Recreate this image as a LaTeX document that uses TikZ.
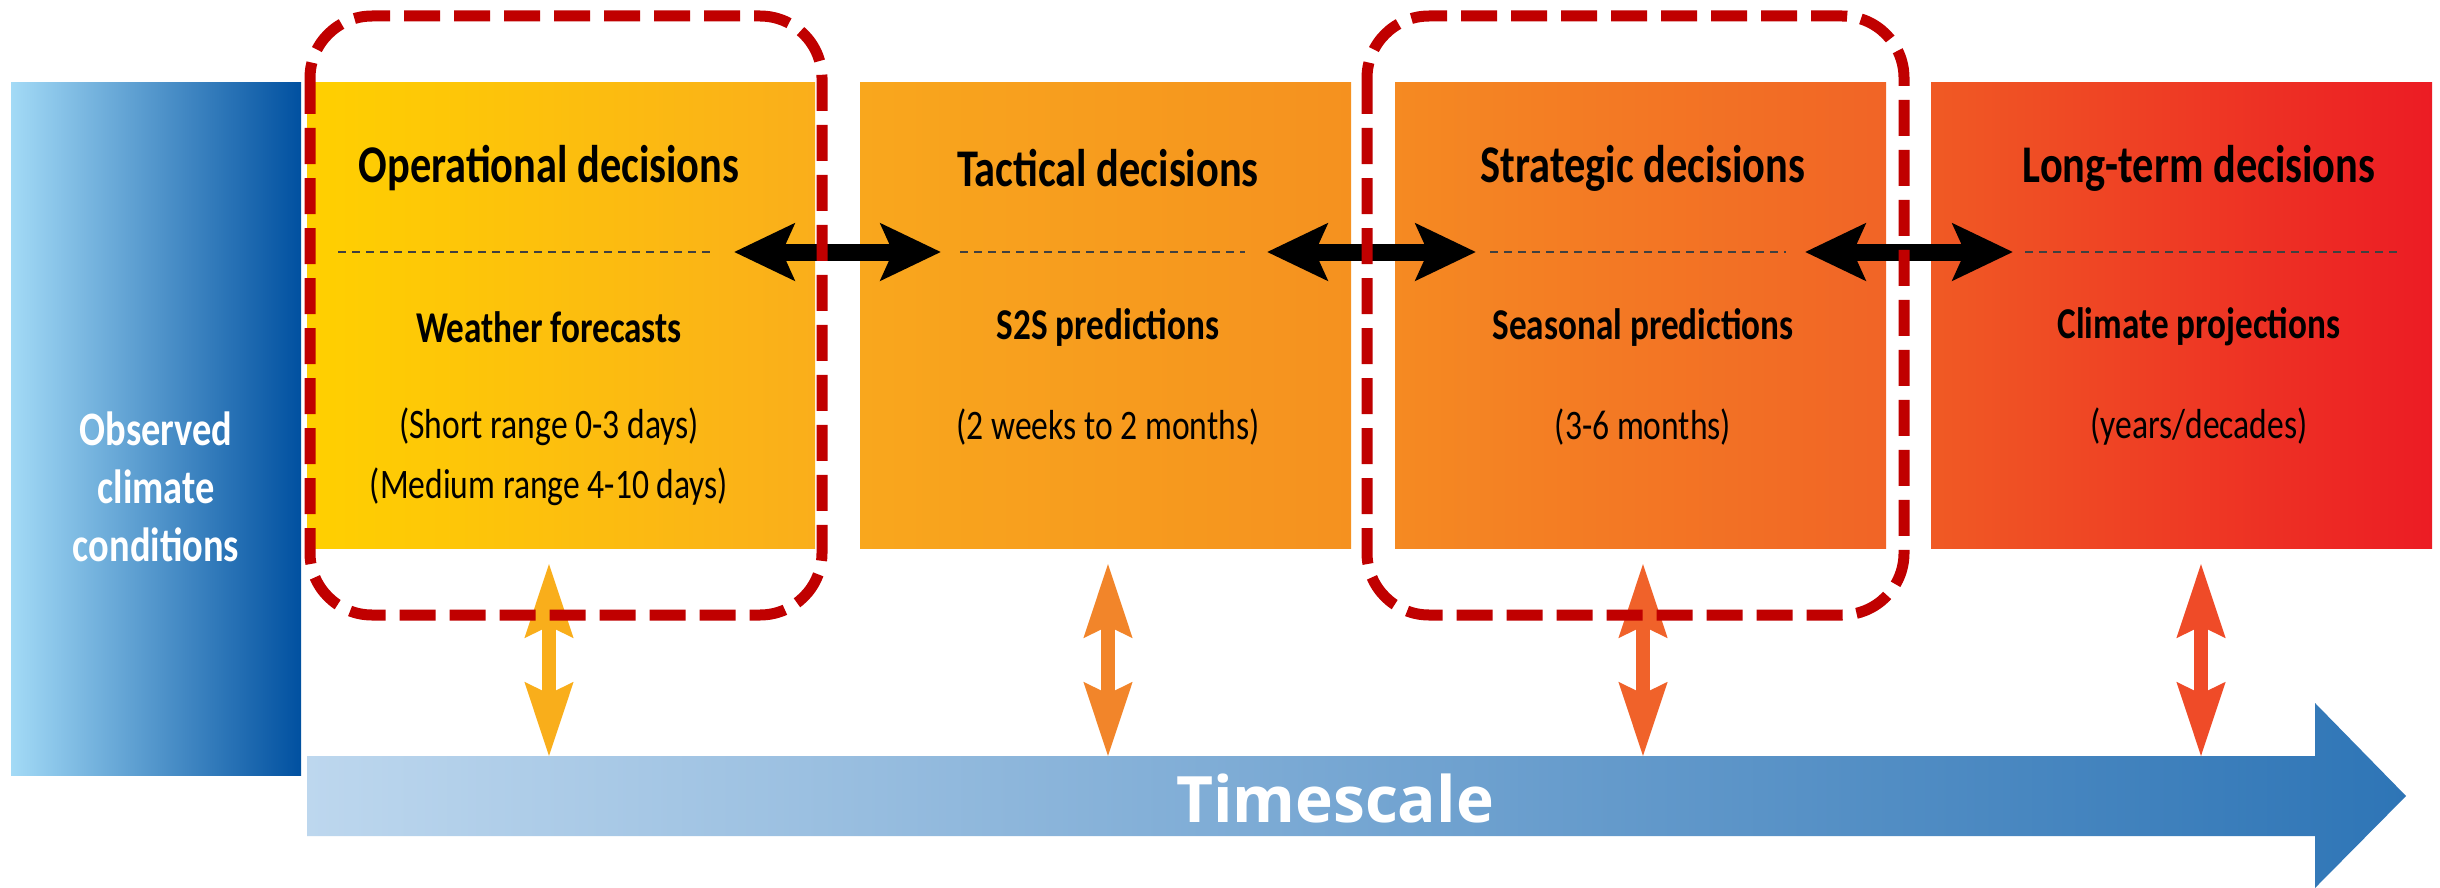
\documentclass[tikz,border=0pt]{standalone}
\usepackage{fontspec}
\setmainfont{Carlito}
\newfontfamily\condf[FakeStretch=0.8]{Carlito}
\newfontfamily\tsfont{Open Sans}
\usetikzlibrary{arrows.meta}
\definecolor{obsL}{HTML}{A3DAF6}
\definecolor{obsR}{HTML}{0050A0}
\definecolor{b1L}{HTML}{FFD000}
\definecolor{b1R}{HTML}{FAAE1B}
\definecolor{b2L}{HTML}{F9A71D}
\definecolor{b2R}{HTML}{F5911F}
\definecolor{b3L}{HTML}{F58A22}
\definecolor{b3R}{HTML}{F16426}
\definecolor{b4L}{HTML}{F05A24}
\definecolor{b4R}{HTML}{EC1C24}
\definecolor{tsL}{HTML}{BDD7EE}
\definecolor{tsR}{HTML}{2E75B6}
\definecolor{va1}{HTML}{F9AE1B}
\definecolor{va2}{HTML}{F2852A}
\definecolor{va3}{HTML}{F0622A}
\definecolor{va4}{HTML}{EF4B28}
\definecolor{dred}{HTML}{C00000}
\tikzset{
  panel/.style={rectangle, inner sep=0pt, anchor=north west},
  ttl/.style={font=\condf\bfseries\fontsize{53}{58}\selectfont, inner sep=0pt},
  sub/.style={font=\condf\bfseries\fontsize{44}{50}\selectfont, inner sep=0pt},
  rng/.style={font=\condf\fontsize{42}{48}\selectfont, inner sep=0pt},
  gline/.style={draw=black!75, line width=2pt, dash pattern=on 8pt off 6pt},
  blk/.style={line width=17pt, {Stealth[length=60pt,width=56pt,inset=12pt]}-{Stealth[length=60pt,width=56pt,inset=12pt]}},
  varr/.style={line width=14pt, {Stealth[length=73pt,width=46pt,inset=10pt]}-{Stealth[length=73pt,width=46pt,inset=10pt]}},
  redbox/.style={draw=dred, line width=11pt, dash pattern=on 36pt off 14pt, rounded corners=62pt}
}
\begin{document}
\begin{tikzpicture}[x=1pt,y=-1pt]
\useasboundingbox (0,0) rectangle (2440,888);
\fill[white] (0,0) rectangle (2440,888);

% observed box
\node[panel, left color=obsL, right color=obsR, minimum width=290pt, minimum height=693pt] (obs) at (11,82) {};
\node[font=\condf\bfseries\fontsize{48}{58}\selectfont, text=white, align=center, inner sep=0pt] (obst) at (156,487) {Observed\\climate\\conditions};

% panels
\node[panel, left color=b1L, right color=b1R, minimum width=508pt, minimum height=466pt] (b1) at (307,82) {};
\node[panel, left color=b2L, right color=b2R, minimum width=491pt, minimum height=466pt] (b2) at (860,82) {};
\node[panel, left color=b3L, right color=b3R, minimum width=491pt, minimum height=466pt] (b3) at (1395,82) {};
\node[panel, left color=b4L, right color=b4R, minimum width=501pt, minimum height=466pt] (b4) at (1931,82) {};

% texts
\node[ttl] (t1) at (549,168) {Operational decisions};
\node[ttl] (t2) at (1108,168) {Tactical decisions};
\node[ttl] (t3) at (1643,168) {Strategic decisions};
\node[ttl] (t4) at (2199,168) {Long-term decisions};

\node[sub] (s1) at (549,327) {Weather forecasts};
\node[sub] (s2) at (1108,327) {S2S predictions};
\node[sub] (s3) at (1643,327) {Seasonal predictions};
\node[sub] (s4) at (2199,327) {Climate projections};

\node[rng] (r1) at (549,427) {(Short range 0-3 days)};
\node[rng] (r1b) at (549,487) {(Medium range 4-10 days)};
\node[rng] (r2) at (1108,427) {(2 weeks to 2 months)};
\node[rng] (r3) at (1643,427) {(3-6 months)};
\node[rng] (r4) at (2199,427) {(years/decades)};

% thin dashed lines
\coordinate (g1a) at (338,252); \coordinate (g1b) at (711,252);
\coordinate (g2a) at (960,252); \coordinate (g2b) at (1245,252);
\coordinate (g3a) at (1490,252); \coordinate (g3b) at (1786,252);
\coordinate (g4a) at (2025,252); \coordinate (g4b) at (2397,252);
\draw[gline] (g1a) -- (g1b);
\draw[gline] (g2a) -- (g2b);
\draw[gline] (g3a) -- (g3b);
\draw[gline] (g4a) -- (g4b);

% black double arrows
\coordinate (k1a) at (734,252); \coordinate (k1b) at (941,252);
\coordinate (k2a) at (1267,252); \coordinate (k2b) at (1476,252);
\coordinate (k3a) at (1805,252); \coordinate (k3b) at (2013,252);
\draw[blk] (k1a) -- (k1b);
\draw[blk] (k2a) -- (k2b);
\draw[blk] (k3a) -- (k3b);

% timescale arrow
\shade[left color=tsL, right color=tsR] (307,756) -- (2315,756) -- (2315,703) -- (2406,796) -- (2315,888) -- (2315,836) -- (307,836) -- cycle;
\node[font=\tsfont\bfseries\fontsize{64}{72}\selectfont, text=white, inner sep=0pt] (ts) at (1335,798) {Timescale};

% vertical arrows
\coordinate (v1a) at (549,563); \coordinate (v1b) at (549,757);
\coordinate (v2a) at (1108,563); \coordinate (v2b) at (1108,757);
\coordinate (v3a) at (1643,563); \coordinate (v3b) at (1643,757);
\coordinate (v4a) at (2201,563); \coordinate (v4b) at (2201,757);
\draw[varr, va1] (v1a) -- (v1b);
\draw[varr, va2] (v2a) -- (v2b);
\draw[varr, va3] (v3a) -- (v3b);
\draw[varr, va4] (v4a) -- (v4b);

% red dashed rounded frames
\draw[redbox] (310,16) rectangle (822,615);
\draw[redbox] (1367,16) rectangle (1904,615);
\end{tikzpicture}
\end{document}
